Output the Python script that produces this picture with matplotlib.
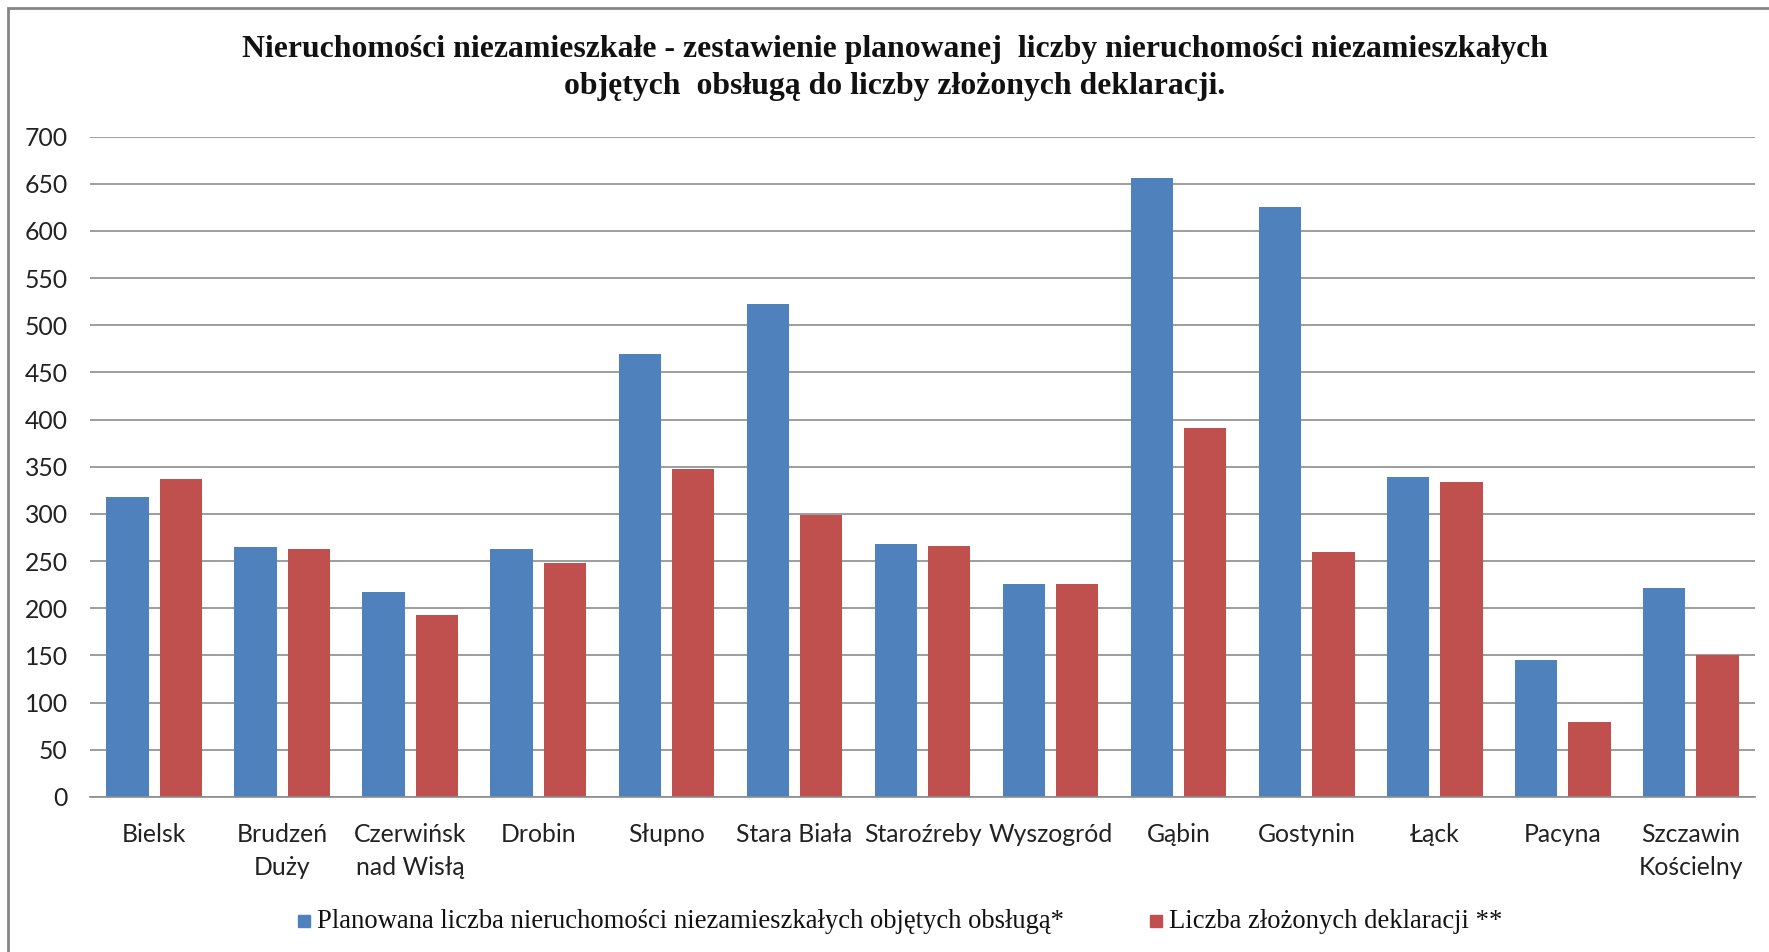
import matplotlib
matplotlib.use("Agg")
import matplotlib.pyplot as plt
from matplotlib.patches import Rectangle
import numpy as np

categories = ["Bielsk", "Brudzeń\nDuży", "Czerwińsk\nnad Wisłą", "Drobin", "Słupno",
              "Stara Biała", "Staroźreby", "Wyszogród", "Gąbin", "Gostynin", "Łąck",
              "Pacyna", "Szczawin\nKościelny"]
planned = [318, 265, 217, 263, 469, 522, 268, 226, 656, 625, 339, 145, 221]
declared = [337, 263, 193, 248, 348, 299, 266, 226, 391, 260, 334, 79, 150]
series_names = ["Planowana liczba nieruchomości niezamieszkałych objętych obsługą*",
                "Liczba złożonych deklaracji **"]
yticks = list(range(0, 701, 50))
title = ("Nieruchomości niezamieszkałe - zestawienie planowanej  liczby nieruchomości niezamieszkałych\n"
         "objętych  obsługą do liczby złożonych deklaracji.")

W, H = 1769, 952
fig = plt.figure(figsize=(W/100, H/100), dpi=100)
ax = fig.add_axes([90/W, 1-797/H, (1755-90)/W, (797-136.5)/H])

x = np.arange(len(categories))
bw = 0.33
off = 0.208
blue = "#4F81BD"
red = "#C0504D"
ax.bar(x - off, planned, bw, color=blue, zorder=3)
ax.bar(x + off, declared, bw, color=red, zorder=3)

ax.set_xlim(-0.5, len(categories) - 0.5)
ax.set_ylim(0, 700)
ax.set_yticks(yticks)
ax.set_yticklabels([str(v) for v in yticks], family="Lato", fontsize=17.8, color="#222222")
ax.set_xticks(x)
ax.set_xticklabels(categories, family="Lato", fontsize=17.8, color="#222222", linespacing=1.5)
ax.tick_params(axis="both", length=0)
ax.tick_params(axis="y", pad=16)
ax.tick_params(axis="x", pad=19)
ax.grid(axis="y", color="#8c8c8c", linewidth=1.2, zorder=0)
for s in ["top", "right", "left"]:
    ax.spines[s].set_visible(False)
ax.spines["bottom"].set_color("#8c8c8c")
ax.spines["bottom"].set_linewidth(1.2)
ax.spines["bottom"].set_zorder(4)

fig.text(895/W, 1-68/H, title, ha="center", va="center", family="Liberation Serif",
         fontweight="bold", fontsize=22.9, linespacing=1.4, color="#111111")

# legend
ly = 1-921/H
sq = 12
for (xs, xt, col, name) in [(298, 317, blue, series_names[0]), (1150, 1169, red, series_names[1])]:
    fig.patches.append(Rectangle((xs/W, ly - sq/2/H), sq/W, sq/H, color=col,
                                 transform=fig.transFigure, figure=fig))
    fig.text(xt/W, ly, name, ha="left", va="center", family="Liberation Serif",
             fontsize=19.2, color="#111111")

# chart border
fig.patches.append(Rectangle((8/W, -0.05), 1.2, 1-8/H + 0.05, fill=False,
                             edgecolor="#868686", linewidth=2, transform=fig.transFigure, figure=fig))

fig.savefig("out.png", dpi=100, facecolor="white")
